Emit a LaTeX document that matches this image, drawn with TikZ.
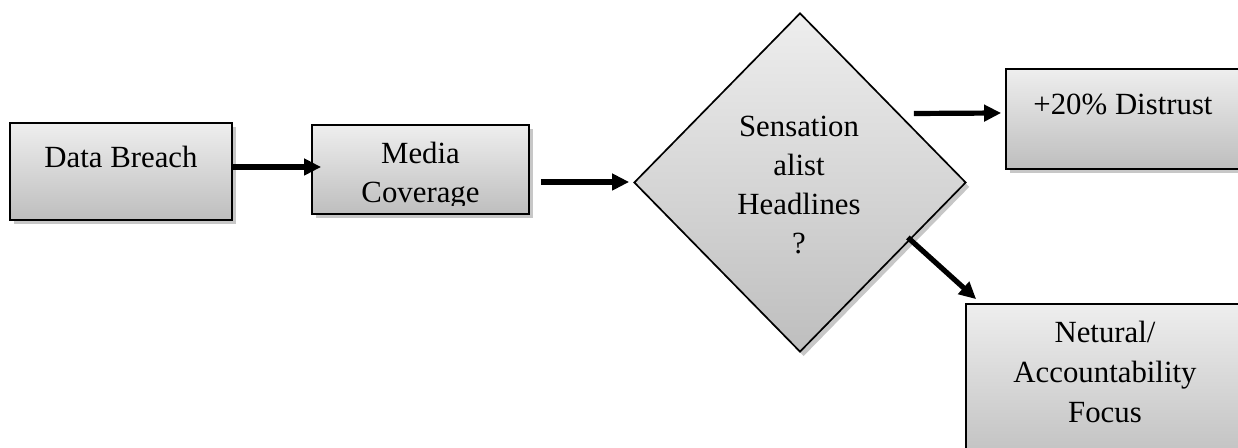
\documentclass[tikz,border=0pt]{standalone}
\usepackage{fontspec}
\setmainfont{Liberation Serif}
\usetikzlibrary{shadows,arrows.meta,shapes.geometric}
\definecolor{topc}{RGB}{238,238,238}
\definecolor{botc}{RGB}{190,190,190}
\begin{document}
\begin{tikzpicture}[x=0.5pt,y=-0.5pt,
  shapebase/.style={draw=black,line width=0.85pt,top color=topc,bottom color=botc,inner sep=0pt,
    drop shadow={shadow xshift=1.8pt,shadow yshift=-2.2pt,opacity=0.22,fill=black}},
  boxnode/.style={shapebase,rectangle},
  lbl/.style={anchor=base,inner sep=0pt,font=\fontsize{15.4}{19}\selectfont},
  arr/.style={line width=2.6pt,-{Triangle[length=8.5pt,width=8pt]}}]
\clip (0,0) rectangle (1238,448);
% boxes
\node[boxnode,minimum width=111pt,minimum height=48.5pt] (db) at (121,171.5) {};
\node[boxnode,minimum width=108.5pt,minimum height=44.5pt] (mc) at (420.5,169.5) {};
\node[shapebase,diamond,minimum width=166pt,minimum height=169.5pt] (dm) at (800,182.5) {};
\node[boxnode,minimum width=117pt,minimum height=50pt] (dt) at (1123,119) {};
\node[boxnode,minimum width=139pt,minimum height=83pt] (nf) at (1105,387) {};
% texts
\node[lbl] (dbt) at (121,168) {Data Breach};
\begin{scope}
\clip (312,125) rectangle (529,206);
\node[lbl] (mct1) at (420.5,164) {Media};
\node[lbl] (mct2) at (420.5,203) {Coverage};
\end{scope}
\node[lbl] (dmt1) at (799,137) {Sensation};
\node[lbl] (dmt2) at (799,176) {alist};
\node[lbl] (dmt3) at (799,215) {Headlines};
\node[lbl] (dmt4) at (799,254) {?};
\node[lbl] (dtt) at (1123,115) {+20\% Distrust};
\node[lbl] (nft1) at (1105,343) {Netural/};
\node[lbl] (nft2) at (1105,383) {Accountability};
\node[lbl] (nft3) at (1105,423) {Focus};
% arrows
\draw[arr,shorten >=-5pt] ([yshift=2.25pt]db.east) -- ([yshift=1.25pt]mc.west);
\draw[arr] ([xshift=5.5pt,yshift=-6.25pt]mc.east) -- ([xshift=-2pt,yshift=0.25pt]dm.west);
\draw[arr] ([xshift=-26.5pt,yshift=34.5pt]dm.east) -- ([xshift=-2pt,yshift=3pt]dt.west);
\draw[arr] ([xshift=-29.5pt,yshift=-27.5pt]dm.east) -- ([xshift=5.5pt,yshift=2pt]nf.north west);
\end{tikzpicture}
\end{document}
